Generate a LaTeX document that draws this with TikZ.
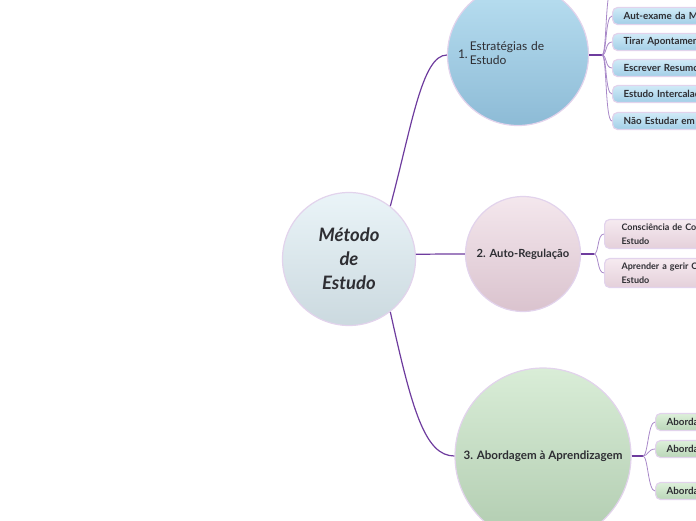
\documentclass[tikz,border=0pt]{standalone}
\usepackage{fontspec}
\setmainfont{Lato}
\usepackage{tikz}
\usetikzlibrary{positioning}
\definecolor{mmtext}{HTML}{2E2E33}
\definecolor{mmring}{HTML}{E2D3EC}
\definecolor{mmline}{HTML}{6E3C9E}
\definecolor{mmtwig}{HTML}{A888C8}
\definecolor{ctrtop}{HTML}{EAF4F8}
\definecolor{ctrbot}{HTML}{CBD9DF}
\definecolor{bluetop}{HTML}{B9DFF1}
\definecolor{bluebot}{HTML}{8DBBD6}
\definecolor{pinktop}{HTML}{F4E7ED}
\definecolor{pinkbot}{HTML}{DAC3CE}
\definecolor{greentop}{HTML}{D9EDD7}
\definecolor{greenbot}{HTML}{B0CBAF}
\definecolor{bluebxtop}{HTML}{D0EBF8}
\definecolor{bluebxbot}{HTML}{A2CEE6}
\definecolor{pinkbxtop}{HTML}{F6EAF0}
\definecolor{pinkbxbot}{HTML}{E4D0DA}
\definecolor{greenbxtop}{HTML}{DDF0DA}
\definecolor{greenbxbot}{HTML}{BAD6B8}

\begin{document}
\begin{tikzpicture}[x=1pt, y=-1pt,
  topic/.style={circle, draw=mmring, line width=1.2pt, inner sep=0pt, text=mmtext},
  branch/.style={draw=mmline, line width=1.2pt},
  stub/.style={draw=mmline, line width=2pt},
  twig/.style={draw=mmtwig, line width=0.8pt},
  subbox/.style={rounded corners=5pt, draw=mmring, line width=1.2pt, anchor=west,
    font=\fontsize{9.8}{14}\selectfont\bfseries, text=mmtext, align=left,
    text width=140pt, inner xsep=11pt, minimum height=17pt},
]
\clip (0,0) rectangle (696,520);

\node[topic, minimum size=133pt, top color=ctrtop, bottom color=ctrbot,
  font=\fontsize{18.5}{24}\selectfont\bfseries\itshape, align=center] (ctr) at (349,259) {Método\\de\\Estudo};
\node[topic, minimum size=141pt, top color=bluetop, bottom color=bluebot,
  font=\fontsize{12}{14}\selectfont, text width=120pt, align=left] (strat) at (518,55)
  {1.\,\begin{tabular}[c]{@{}l@{}}Estratégias de\\Estudo\end{tabular}};
\node[topic, minimum size=115pt, top color=pinktop, bottom color=pinkbot,
  font=\fontsize{11.2}{13}\selectfont\bfseries] (autoreg) at (523,254) {2. Auto-Regulação};
\node[topic, minimum size=176pt, top color=greentop, bottom color=greenbot,
  font=\fontsize{11.6}{13}\selectfont\bfseries] (abord) at (543,456) {3. Abordagem à Aprendizagem};

\draw[branch] (ctr.52) .. controls (412,125) and (422,55) .. (strat.west);
\draw[branch] (ctr.4) .. controls (440,254) and (445,254) .. (autoreg.west);
\draw[branch] (ctr.-52) .. controls (412,410) and (425,456) .. (abord.west);

\coordinate (j1) at (602,55);
\coordinate (j2) at (594,254);
\coordinate (j3) at (643,456);
\draw[stub] (strat.east) -- (j1);
\draw[stub] (autoreg.east) -- (j2);
\draw[stub] (abord.east) -- (j3);

\coordinate (s0) at (612,-12);
\draw[twig] (j1) .. controls +(5,0) and +(-7,0) .. (s0);
\foreach \i/\t/\yy in {1/{Aut-exame da M}/16, 2/{Tirar Apontamen}/42,
  3/{Escrever Resumo}/68, 4/{Estudo Intercalad}/94, 5/{Não Estudar em C}/121} {
  \node[subbox, top color=bluebxtop, bottom color=bluebxbot] (s\i) at (612,\yy) {\t};
  \draw[twig] (j1) .. controls +(5,0) and +(-7,0) .. (s\i.west);
}

\foreach \i/\t/\yy in {1/{Consciência de Co}/234, 2/{Aprender a gerir C}/273} {
  \node[subbox, top color=pinkbxtop, bottom color=pinkbxbot, minimum height=29pt,
    inner xsep=17pt, font=\fontsize{9}{13.5}\selectfont\bfseries] (r\i) at (604,\yy) {\t\\Estudo};
  \draw[twig] (j2) .. controls +(5,0) and +(-7,0) .. (r\i.west);
}

\foreach \i/\yy in {1/422, 2/449, 3/491} {
  \node[subbox, top color=greenbxtop, bottom color=greenbxbot] (a\i) at (655,\yy) {Aborda};
  \draw[twig] (j3) .. controls +(5,0) and +(-7,0) .. (a\i.west);
}
\end{tikzpicture}
\end{document}
